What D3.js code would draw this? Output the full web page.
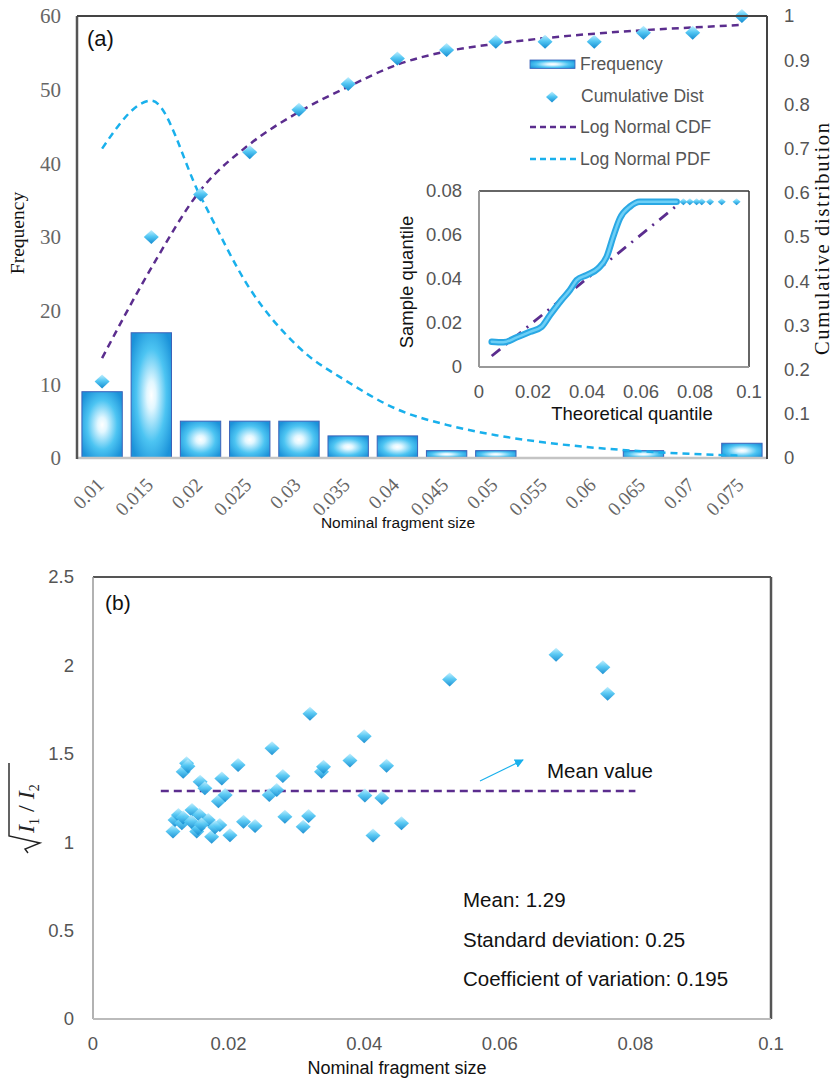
<!DOCTYPE html>
<html><head><meta charset="utf-8">
<script src="https://cdn.jsdelivr.net/npm/d3@7"></script>
<style>body{margin:0;background:#fff} svg{display:block}</style>
</head><body>
<svg id="c" width="835" height="1083"></svg>
<script>
// ---------- Panel (a) data ----------
const categories = ["0.01","0.015","0.02","0.025","0.03","0.035","0.04","0.045","0.05","0.055","0.06","0.065","0.07","0.075"];
const frequency = [9,17,5,5,5,3,3,1,1,0,0,1,0,2];
const cumulativeDist = [0.173,0.5,0.596,0.692,0.788,0.846,0.904,0.923,0.942,0.942,0.942,0.962,0.962,1.0];
const logNormalCDF = [0.226,0.43,0.606,0.71,0.783,0.84,0.89,0.92,0.937,0.95,0.96,0.968,0.974,0.98];
const logNormalPDF = [42,48.5,35.5,23,15,10.3,6.6,4.5,3.1,2.1,1.4,0.9,0.55,0.3];
const freqTicks = [0,10,20,30,40,50,60];
const cumTicks = [0,0.1,0.2,0.3,0.4,0.5,0.6,0.7,0.8,0.9,1];
const legendLabels = ["Frequency","Cumulative Dist","Log Normal CDF","Log Normal PDF"];

// ---------- Inset (Q-Q plot) data ----------
const qqTheoretical = [0.0047,0.009,0.014,0.0189,0.0232,0.0263,0.0306,0.0337,0.0362,0.0399,0.0442,0.0473,0.0497,0.0522,0.0559,0.0596,0.0732];
const qqSample      = [0.0115,0.0112,0.0135,0.016,0.0183,0.0236,0.0305,0.035,0.0395,0.0418,0.0449,0.0501,0.0592,0.0676,0.0729,0.0751,0.0751];
const qqTailTheoretical = [0.0757,0.0781,0.0806,0.0825,0.0856,0.0899,0.0954];
const qqTailSample      = [0.0751,0.0751,0.0751,0.0751,0.0751,0.0751,0.0751];
const qqRefTheoretical = [0.0047,0.074];
const qqRefSample      = [0.0050,0.0741];
const insetXTicks = [0,0.02,0.04,0.06,0.08,0.1];
const insetYTicks = [0,0.02,0.04,0.06,0.08];

// ---------- Panel (b) data ----------
const fragmentSize = [0.0118,0.0121,0.0126,0.0131,0.0133,0.0133,0.0138,0.0146,0.0153,0.0155,0.0157,0.0158,0.0165,0.017,0.0175,0.0185,0.0187,0.019,0.0195,0.0202,0.0214,0.0222,0.0239,0.026,0.0264,0.0271,0.028,0.0283,0.031,0.0318,0.032,0.0337,0.034,0.0379,0.04,0.0401,0.0413,0.0426,0.0433,0.0455,0.0526,0.0683,0.0752,0.0759,0.0145,0.018,0.016,0.014];
const inertiaRatio = [1.06,1.126,1.154,1.107,1.14,1.399,1.446,1.182,1.06,1.079,1.154,1.342,1.305,1.126,1.031,1.231,1.097,1.361,1.267,1.04,1.437,1.116,1.092,1.267,1.531,1.295,1.374,1.144,1.088,1.148,1.727,1.399,1.427,1.462,1.599,1.264,1.038,1.25,1.432,1.107,1.92,2.06,1.99,1.84,1.115,1.085,1.10,1.43];
const meanValue = 1.29;
const meanRange = [0.01,0.08];
const bXTicks = [0,0.02,0.04,0.06,0.08,0.1];
const bYTicks = [0,0.5,1,1.5,2,2.5];
const statsLines = ["Mean: 1.29","Standard deviation: 0.25","Coefficient of variation: 0.195"];

// ---------- Drawing ----------
const SANS = "'Liberation Sans', Arial, sans-serif";
const SERIF = "'Liberation Serif', 'Times New Roman', serif";
const PURPLE = "#5b2d8e";
const LBLUE = "#19b0ec";
const svg = d3.select("#c");
const defs = svg.append("defs");

const bg = defs.append("radialGradient").attr("id","barGrad").attr("cx","50%").attr("cy","50%").attr("r","62%");
[["0%","#ffffff"],["18%","#e2f7ff"],["60%","#4cc4f2"],["100%","#1b92d9"]].forEach(s=>bg.append("stop").attr("offset",s[0]).attr("stop-color",s[1]));
const dg = defs.append("linearGradient").attr("id","diamGrad").attr("x1",0).attr("y1",0).attr("x2",0).attr("y2",1);
[["0%","#c2effe"],["45%","#55c8f4"],["100%","#138bd0"]].forEach(s=>dg.append("stop").attr("offset",s[0]).attr("stop-color",s[1]));
defs.append("marker").attr("id","arrow").attr("viewBox","0 0 10 10").attr("refX",9).attr("refY",5)
  .attr("markerWidth",9).attr("markerHeight",9).attr("orient","auto").attr("markerUnits","userSpaceOnUse")
  .append("path").attr("d","M0,0 L10,5 L0,10 Z").attr("fill",LBLUE);

const diamond = (w,h)=>({draw(ctx){ctx.moveTo(0,-h);ctx.lineTo(w,0);ctx.lineTo(0,h);ctx.lineTo(-w,0);ctx.closePath();}});
const diamondPath = (w,h)=>d3.symbol().type(diamond(w,h))();

// ===== Panel (a) =====
const A = {l:77, r:767, t:16, b:458};
const xA = d3.scaleBand().domain(categories).range([A.l,A.r]).paddingInner(0.18).paddingOuter(0.1);
const yF = d3.scaleLinear().domain([0,60]).range([A.b,A.t]);
const yC = d3.scaleLinear().domain([0,1]).range([A.b,A.t]);
const cx = c => xA(c)+xA.bandwidth()/2;

// bars
svg.append("g").selectAll("rect").data(categories.filter((c,i)=>frequency[i]>0)).join("rect")
  .attr("x",c=>xA(c)).attr("width",xA.bandwidth())
  .attr("y",c=>yF(frequency[categories.indexOf(c)]))
  .attr("height",c=>yF(0)-yF(frequency[categories.indexOf(c)]))
  .attr("fill","url(#barGrad)").attr("stroke","#3c62b8").attr("stroke-width",1);

// PDF line
svg.append("path").datum(categories).attr("fill","none").attr("stroke",LBLUE).attr("stroke-width",2.5)
  .attr("stroke-dasharray","7,5")
  .attr("d",d3.line().x(c=>cx(c)).y((c,i)=>yF(logNormalPDF[i])).curve(d3.curveMonotoneX));
// CDF line
svg.append("path").datum(categories).attr("fill","none").attr("stroke",PURPLE).attr("stroke-width",2.5)
  .attr("stroke-dasharray","7,5")
  .attr("d",d3.line().x(c=>cx(c)).y((c,i)=>yC(logNormalCDF[i])).curve(d3.curveMonotoneX));
// cumulative diamonds
svg.append("g").selectAll("path").data(categories).join("path")
  .attr("d",diamondPath(7.5,7)).attr("fill","url(#diamGrad)")
  .attr("transform",(c,i)=>`translate(${cx(c)},${yC(cumulativeDist[i])})`);

// frame
svg.append("line").attr("x1",A.l).attr("x2",A.r).attr("y1",A.b).attr("y2",A.b).attr("stroke","#c4c4c4").attr("stroke-width",2.5);
svg.append("line").attr("x1",A.l).attr("x2",A.l).attr("y1",A.t).attr("y2",A.b+1).attr("stroke","#555").attr("stroke-width",2.5);
svg.append("line").attr("x1",A.l).attr("x2",A.r).attr("y1",A.t).attr("y2",A.t).attr("stroke","#444").attr("stroke-width",2);
svg.append("line").attr("x1",A.r).attr("x2",A.r).attr("y1",A.t).attr("y2",A.b+1).attr("stroke","#444").attr("stroke-width",2);

// left axis labels
svg.append("g").selectAll("text").data(freqTicks).join("text")
  .attr("x",61).attr("y",d=>yF(d)).attr("dy","0.35em").attr("text-anchor","end")
  .attr("font-family",SERIF).attr("font-size",21).attr("fill","#666").text(d=>d);
// right axis labels
svg.append("g").selectAll("text").data(cumTicks).join("text")
  .attr("x",784).attr("y",d=>yC(d)).attr("dy","0.35em").attr("text-anchor","start")
  .attr("font-family",SANS).attr("font-size",18.5).attr("fill","#555").text(d=>d);
// x labels rotated
svg.append("g").selectAll("text").data(categories).join("text")
  .attr("text-anchor","end").attr("transform",c=>`translate(${cx(c)+3},486) rotate(-45)`)
  .attr("font-family",SERIF).attr("font-size",19.5).attr("fill","#666").text(c=>c);
// axis titles
svg.append("text").attr("transform","translate(24,233) rotate(-90)").attr("text-anchor","middle")
  .attr("font-family",SERIF).attr("font-size",19.5).attr("fill","#111").text("Frequency");
svg.append("text").attr("transform","translate(829,239) rotate(-90)").attr("text-anchor","middle")
  .attr("font-family",SERIF).attr("font-size",20.5).attr("textLength",232).attr("lengthAdjust","spacing")
  .attr("fill","#111").text("Cumulative distribution");
svg.append("text").attr("x",398).attr("y",528).attr("text-anchor","middle")
  .attr("font-family",SANS).attr("font-size",15.5).attr("fill","#111").text("Nominal fragment size");
svg.append("text").attr("x",87).attr("y",46).attr("font-family",SANS).attr("font-size",22).attr("fill","#111").text("(a)");

// legend
const lg = svg.append("g");
const legY = [64,96,127,159];
lg.append("rect").attr("x",530).attr("y",legY[0]-4).attr("width",45).attr("height",8.5).attr("fill","url(#barGrad)").attr("stroke","#3c62b8").attr("stroke-width",0.8);
lg.append("path").attr("d",diamondPath(6,5.5)).attr("fill","url(#diamGrad)").attr("transform",`translate(552,${legY[1]+1})`);
lg.append("line").attr("x1",530).attr("x2",577).attr("y1",legY[2]).attr("y2",legY[2]).attr("stroke",PURPLE).attr("stroke-width",2.5).attr("stroke-dasharray","6,4");
lg.append("line").attr("x1",530).attr("x2",577).attr("y1",legY[3]).attr("y2",legY[3]).attr("stroke",LBLUE).attr("stroke-width",2.5).attr("stroke-dasharray","6,4");
lg.selectAll("text").data(legendLabels).join("text")
  .attr("x",(d,i)=>i===1?581:580).attr("y",(d,i)=>legY[i]).attr("dy","0.35em")
  .attr("font-family",SANS).attr("font-size",17.5).attr("fill","#555").text(d=>d);

// ===== Inset =====
const I = {l:479, r:749, t:191, b:367};
const xI = d3.scaleLinear().domain([0,0.1]).range([I.l,I.r]);
const yI = d3.scaleLinear().domain([0,0.08]).range([I.b,I.t]);
svg.append("rect").attr("x",I.l).attr("y",I.t).attr("width",I.r-I.l).attr("height",I.b-I.t).attr("fill","#fff");
svg.append("path").datum(qqRefTheoretical).attr("fill","none").attr("stroke",PURPLE).attr("stroke-width",2.8)
  .attr("stroke-dasharray","11,7,2,7")
  .attr("d",d3.line().x(d=>xI(d)).y((d,i)=>yI(qqRefSample[i])));
const qqLine = d3.line().x(d=>xI(d)).y((d,i)=>yI(qqSample[i])).curve(d3.curveMonotoneX);
svg.append("path").datum(qqTheoretical).attr("fill","none").attr("stroke","#2aa8e4").attr("stroke-width",6.5).attr("stroke-linecap","round").attr("d",qqLine);
svg.append("path").datum(qqTheoretical).attr("fill","none").attr("stroke","#6dcff6").attr("stroke-width",2.5).attr("stroke-linecap","round").attr("d",qqLine);
svg.append("g").selectAll("path").data(qqTailTheoretical).join("path")
  .attr("d",diamondPath(4,3.5)).attr("fill","url(#diamGrad)")
  .attr("transform",(d,i)=>`translate(${xI(d)},${yI(qqTailSample[i])})`);
svg.append("line").attr("x1",I.l).attr("x2",I.r).attr("y1",I.t).attr("y2",I.t).attr("stroke","#333").attr("stroke-width",1.5);
svg.append("line").attr("x1",I.r).attr("x2",I.r).attr("y1",I.t).attr("y2",I.b).attr("stroke","#333").attr("stroke-width",1.5);
svg.append("line").attr("x1",I.l).attr("x2",I.l).attr("y1",I.t).attr("y2",I.b).attr("stroke","#999").attr("stroke-width",2);
svg.append("line").attr("x1",I.l).attr("x2",I.r).attr("y1",I.b).attr("y2",I.b).attr("stroke","#999").attr("stroke-width",2);
svg.append("g").selectAll("text").data(insetYTicks).join("text")
  .attr("x",462).attr("y",d=>yI(d)).attr("dy","0.35em").attr("text-anchor","end")
  .attr("font-family",SANS).attr("font-size",18.5).attr("fill","#555").text(d=>d);
svg.append("g").selectAll("text").data(insetXTicks).join("text")
  .attr("x",d=>xI(d)).attr("y",398).attr("text-anchor","middle")
  .attr("font-family",SANS).attr("font-size",18.5).attr("fill","#555").text(d=>d);
svg.append("text").attr("x",632).attr("y",420).attr("text-anchor","middle")
  .attr("font-family",SANS).attr("font-size",18.5).attr("fill","#111").text("Theoretical quantile");
svg.append("text").attr("transform","translate(413,282) rotate(-90)").attr("text-anchor","middle")
  .attr("font-family",SANS).attr("font-size",18.5).attr("fill","#111").text("Sample quantile");

// ===== Panel (b) =====
const B = {l:93, r:771, t:577, b:1019};
const xB = d3.scaleLinear().domain([0,0.1]).range([B.l,B.r]);
const yB = d3.scaleLinear().domain([0,2.5]).range([B.b,B.t]);
svg.append("line").attr("x1",xB(meanRange[0])).attr("x2",xB(meanRange[1])).attr("y1",yB(meanValue)).attr("y2",yB(meanValue))
  .attr("stroke",PURPLE).attr("stroke-width",2.5).attr("stroke-dasharray","8,5");
svg.append("g").selectAll("path").data(fragmentSize).join("path")
  .attr("d",diamondPath(7.5,7)).attr("fill","url(#diamGrad)").attr("opacity",0.95)
  .attr("transform",(d,i)=>`translate(${xB(d)},${yB(inertiaRatio[i])})`);
// frame
svg.append("line").attr("x1",B.l).attr("x2",B.r).attr("y1",B.t).attr("y2",B.t).attr("stroke","#555").attr("stroke-width",2);
svg.append("line").attr("x1",B.r).attr("x2",B.r).attr("y1",B.t).attr("y2",B.b).attr("stroke","#555").attr("stroke-width",2.5);
svg.append("line").attr("x1",B.l).attr("x2",B.l).attr("y1",B.t).attr("y2",B.b).attr("stroke","#999").attr("stroke-width",1.5);
svg.append("line").attr("x1",B.l).attr("x2",B.r).attr("y1",B.b).attr("y2",B.b).attr("stroke","#bbb").attr("stroke-width",2);
svg.append("g").selectAll("text").data(bYTicks).join("text")
  .attr("x",74).attr("y",d=>yB(d)).attr("dy","0.35em").attr("text-anchor","end")
  .attr("font-family",SANS).attr("font-size",18.5).attr("fill","#555").text(d=>d);
svg.append("g").selectAll("text").data(bXTicks).join("text")
  .attr("x",d=>xB(d)).attr("y",1050).attr("text-anchor","middle")
  .attr("font-family",SANS).attr("font-size",18.5).attr("fill","#555").text(d=>d);
svg.append("text").attr("x",397).attr("y",1074).attr("text-anchor","middle")
  .attr("font-family",SANS).attr("font-size",18).attr("fill","#111").text("Nominal fragment size");
svg.append("text").attr("x",105).attr("y",610).attr("font-family",SANS).attr("font-size",21).attr("fill","#111").text("(b)");
// arrow and mean label
svg.append("line").attr("x1",480).attr("y1",781).attr("x2",523).attr("y2",760)
  .attr("stroke",LBLUE).attr("stroke-width",1.2).attr("marker-end","url(#arrow)");
svg.append("text").attr("x",547).attr("y",778).attr("font-family",SANS).attr("font-size",20.5).attr("fill","#111").text("Mean value");
svg.append("g").selectAll("text").data(statsLines).join("text")
  .attr("x",463).attr("y",(d,i)=>907+i*39.5)
  .attr("font-family",SANS).attr("font-size",20.5).attr("fill","#111").text(d=>d);

// y label: sqrt(I1 / I2)
const yl = svg.append("g").attr("transform","translate(34,803) rotate(-90)");
yl.append("path").attr("d","M-50,-6 L-46,-9 L-40,6 L-33,-25 L40,-25").attr("fill","none").attr("stroke","#222").attr("stroke-width",1.4);
const yt = yl.append("text").attr("x",-30).attr("y",0).attr("font-family",SERIF).attr("font-size",24).attr("fill","#222");
yt.append("tspan").attr("font-style","italic").text("I");
yt.append("tspan").attr("font-size",14).attr("dy",5).text("1");
yt.append("tspan").attr("dy",-5).text(" / ");
yt.append("tspan").attr("font-style","italic").text("I");
yt.append("tspan").attr("font-size",14).attr("dy",5).text("2");
</script>
</body></html>
